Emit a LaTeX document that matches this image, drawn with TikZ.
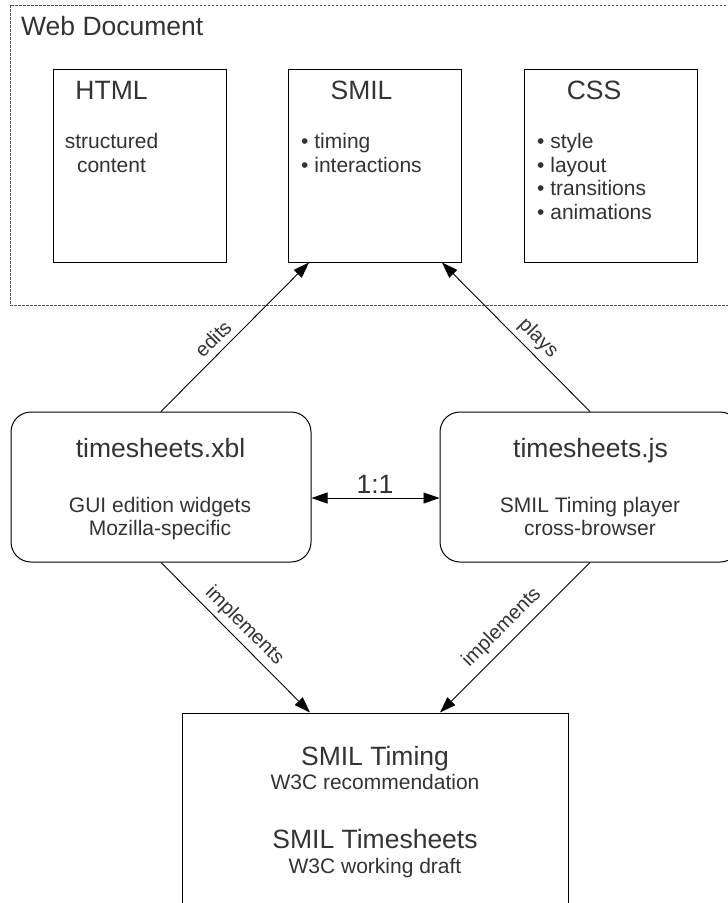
\documentclass[tikz,border=0pt]{standalone}
\usepackage{fontspec}
\setmainfont{Liberation Sans}
\usetikzlibrary{arrows.meta,calc}
\definecolor{txt}{HTML}{333333}
\definecolor{dashc}{HTML}{555555}
\begin{document}
\begin{tikzpicture}[x=1pt,y=-1pt,
  box/.style={draw=black, line width=1pt, inner sep=0pt},
  rbox/.style={box, rounded corners=20pt},
  frame/.style={draw=dashc, line width=1pt, dash pattern=on 2.5pt off 1.5pt, inner sep=0pt},
  title/.style={text=txt, font=\fontsize{26.5}{30}\selectfont, inner sep=0pt, anchor=base},
  body/.style={text=txt, font=\fontsize{21}{24}\selectfont, inner sep=0pt, anchor=base},
  bodyl/.style={body, anchor=base west},
  lbl/.style={text=txt, font=\fontsize{20}{24}\selectfont, inner sep=0pt, sloped},
  arr/.style={draw=black, line width=0.9pt, -{Triangle[length=16pt,width=11pt]}},
  dbl/.style={draw=black, line width=0.9pt, {Triangle[length=16pt,width=11pt]}-{Triangle[length=16pt,width=11pt]}},
]
\useasboundingbox (0,0) rectangle (728,903);
\fill[white] (0,0) rectangle (728,903);
\clip (0,0) rectangle (728,903);

% web document frame
\node[frame, minimum width=730pt, minimum height=300pt] (web) at (375,155) {};
\node[title, anchor=base west] (webt) at (21,35) {Web Document};

% top boxes
\node[box, minimum width=173pt, minimum height=193pt] (html) at (139.5,165.5) {};
\node[box, minimum width=173pt, minimum height=193pt] (smil) at (375,165.5) {};
\node[box, minimum width=173pt, minimum height=193pt] (css) at (611,165.5) {};

\node[title] (htmlt) at (111.5,99) {HTML};
\node[body] (html1) at (111.5,148) {structured};
\node[body] (html2) at (111.5,172) {content};

\node[title] (smilt) at (361.5,99) {SMIL};
\node[bodyl] (smil1) at (301,148) {• timing};
\node[bodyl] (smil2) at (301,172) {• interactions};

\node[title] (csst) at (594,99) {CSS};
\node[bodyl] (css1) at (537,148) {• style};
\node[bodyl] (css2) at (537,172) {• layout};
\node[bodyl] (css3) at (537,195.5) {• transitions};
\node[bodyl] (css4) at (537,219) {• animations};

% middle boxes
\node[rbox, minimum width=300pt, minimum height=150pt] (xbl) at (161,487) {};
\node[rbox, minimum width=300pt, minimum height=150pt] (js) at (590,487) {};
\node[title] (xblt) at (160.5,457) {timesheets.xbl};
\node[body] (xbl1) at (160,512) {GUI edition widgets};
\node[body] (xbl2) at (160,535) {Mozilla-specific};
\node[title] (jst) at (590.5,457) {timesheets.js};
\node[body] (js1) at (590,512) {SMIL Timing player};
\node[body] (js2) at (590,535) {cross-browser};
\node[title] (ratio) at (375,493) {1:1};

% bottom box
\node[box, minimum width=386pt, minimum height=250pt] (w3c) at (375,838) {};
\node[title] (w1) at (375,765) {SMIL Timing};
\node[body] (w2) at (375,789) {W3C recommendation};
\node[title] (w3) at (375,848) {SMIL Timesheets};
\node[body] (w4) at (375,873) {W3C working draft};

% connectors
\draw[arr] (xbl.north) -- node[lbl, pos=0.42, above=6.5pt] {edits} ([xshift=-66pt]smil.south);
\draw[arr] (js.north) -- node[lbl, pos=0.42, above=4.6pt] {plays} ([xshift=67pt]smil.south);
\draw[arr] (xbl.south) -- node[lbl, pos=0.49, above=4.6pt] {implements} ([xshift=-65pt]w3c.north);
\draw[arr] (js.south) -- node[lbl, pos=0.51, above=6.6pt] {implements} ([xshift=65pt]w3c.north);
\draw[dbl] ([yshift=-11pt]xbl.east) -- ([yshift=-11pt]js.west);
\end{tikzpicture}
\end{document}
